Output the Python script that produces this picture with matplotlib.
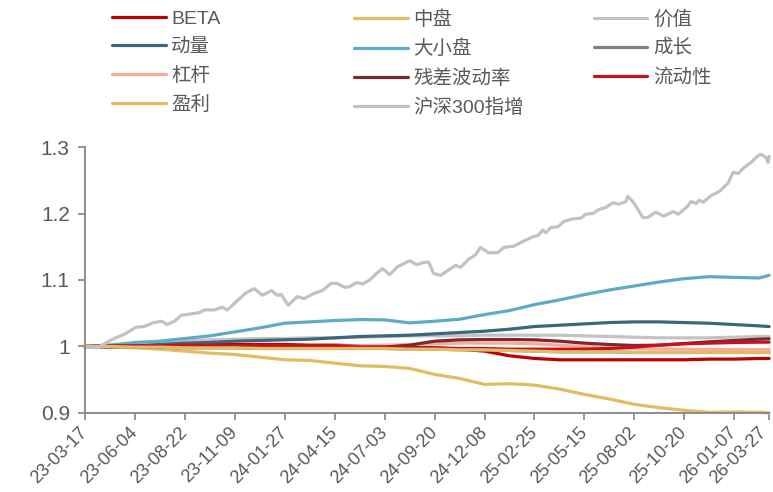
import matplotlib.pyplot as plt
import matplotlib.transforms as mtransforms

plt.rcParams['font.family'] = ['Liberation Sans', 'Noto Sans CJK SC', 'DejaVu Sans']

# tick labels (category axis, one tick every 10 observations, last tick at the end)
tick_pos = [0, 10, 20, 30, 40, 50, 60, 70, 80, 90, 100, 110, 120, 130, 137]
tick_labels = ["23-03-17", "23-06-04", "23-08-22", "23-11-09", "24-01-27", "24-04-15",
               "24-07-03", "24-09-20", "24-12-08", "25-02-25", "25-05-15", "25-08-02",
               "25-10-20", "26-01-07", "26-03-27"]

# common grid for the smooth factor curves
t = [0, 5, 10, 15, 20, 25, 30, 35, 40, 45, 50, 55, 60, 65, 70, 75, 80, 85, 90, 95,
     100, 105, 110, 115, 120, 125, 130, 135, 137]

beta = [1.0, 1.001, 1.002, 1.002, 1.003, 1.003, 1.003, 1.003, 1.003, 1.002, 1.002, 1.001,
        1.0, 0.999, 0.998, 0.996, 0.993, 0.986, 0.982, 0.980, 0.980, 0.980, 0.980, 0.980,
        0.980, 0.981, 0.981, 0.982, 0.982]
zhongpan = [1.0, 0.999, 0.998, 0.996, 0.993, 0.990, 0.988, 0.984, 0.980, 0.979, 0.975, 0.971,
            0.970, 0.967, 0.958, 0.952, 0.943, 0.944, 0.942, 0.936, 0.928, 0.921, 0.913, 0.908,
            0.904, 0.901, 0.9015, 0.901, 0.900]
jiazhi = [1.0, 1.002, 1.004, 1.006, 1.008, 1.010, 1.011, 1.012, 1.012, 1.013, 1.013, 1.014,
          1.015, 1.016, 1.016, 1.016, 1.017, 1.017, 1.017, 1.017, 1.016, 1.015, 1.014, 1.013,
          1.013, 1.013, 1.014, 1.015, 1.015]
dongliang = [1.0, 0.999, 1.001, 1.003, 1.005, 1.006, 1.008, 1.009, 1.010, 1.011, 1.013, 1.015,
             1.016, 1.017, 1.019, 1.021, 1.023, 1.026, 1.030, 1.032, 1.034, 1.036, 1.037, 1.037,
             1.036, 1.035, 1.033, 1.031, 1.030]
daxiaopan = [1.0, 1.002, 1.006, 1.008, 1.012, 1.016, 1.022, 1.028, 1.035, 1.037, 1.039, 1.0405,
             1.040, 1.0355, 1.038, 1.041, 1.048, 1.054, 1.063, 1.070, 1.078, 1.085, 1.091, 1.097,
             1.102, 1.105, 1.104, 1.103, 1.107]
chengzhang = [1.0, 1.0, 0.999, 0.999, 0.998, 0.998, 0.998, 0.997, 0.997, 0.997, 0.997, 0.997,
              0.997, 0.996, 0.996, 0.995, 0.995, 0.994, 0.993, 0.992, 0.992, 0.992, 0.991, 0.991,
              0.991, 0.991, 0.991, 0.991, 0.991]
ganggan = [1.0, 1.0, 1.0, 1.0, 1.0, 1.0, 1.0, 1.0, 1.0, 1.0, 1.0, 1.001,
           1.002, 1.003, 1.004, 1.005, 1.005, 1.005, 1.004, 1.002, 1.0, 0.998, 0.997, 0.996,
           0.996, 0.9955, 0.9955, 0.9955, 0.9955]
canchabodong = [1.0, 1.0, 1.0, 0.999, 0.999, 0.999, 0.999, 0.999, 0.999, 0.999, 0.999, 0.999,
                0.999, 1.002, 1.008, 1.010, 1.0105, 1.0105, 1.010, 1.008, 1.005, 1.003, 1.0015, 1.002,
                1.0045, 1.007, 1.009, 1.011, 1.0115]
liudongxing = [1.0, 1.001, 1.001, 1.001, 1.002, 1.002, 1.001, 1.001, 1.0, 1.0, 1.0, 0.999,
               0.999, 0.998, 0.998, 0.997, 0.997, 0.996, 0.996, 0.996, 0.996, 0.997, 0.999, 1.002,
               1.004, 1.005, 1.006, 1.0065, 1.0065]
yingli = [1.0, 1.0, 0.999, 0.999, 0.998, 0.998, 0.998, 0.997, 0.997, 0.997, 0.997, 0.997,
          0.997, 0.996, 0.996, 0.995, 0.995, 0.994, 0.993, 0.992, 0.992, 0.992, 0.991, 0.991,
          0.991, 0.991, 0.991, 0.991, 0.991]

# CSI 300 enhanced index: denser, jagged
t_hs = [0, 2.4, 5.8, 7.8, 10.2, 11.8, 13.8, 15.4, 16.4, 17.9, 19.3, 21.3, 22.9, 23.9, 25.9,
        27.5, 28.5, 30.5, 32.3, 33.9, 35.5, 37.3, 38.5, 39.3, 40.7, 42.5, 43.9, 45.9, 47.5,
        49.3, 50.4, 52.0, 53.0, 54.4, 55.6, 57.0, 58.4, 59.6, 61.0, 62.6, 65.0, 66.4, 67.6,
        68.8, 69.8, 71.2, 72.6, 74.2, 75.2, 76.8, 78.2, 79.2, 80.8, 82.6, 83.9, 85.9, 87.7,
        89.7, 90.7, 91.7, 92.3, 93.3, 94.7, 95.9, 97.7, 99.3, 100.3, 101.7, 102.9, 104.3,
        105.7, 106.9, 108.3, 108.7, 109.9, 111.7, 112.7, 114.3, 115.9, 117.8, 118.8, 120.4,
        121.4, 122.4, 123.0, 123.8, 125.4, 127.0, 128.8, 129.8, 130.8, 131.8, 133.4, 134.8,
        135.4, 136.4, 136.8, 137.0]
hs300 = [1.0, 0.998, 1.012, 1.018, 1.029, 1.030, 1.036, 1.038, 1.033, 1.038, 1.047, 1.049,
         1.051, 1.055, 1.055, 1.059, 1.055, 1.069, 1.081, 1.087, 1.077, 1.084, 1.077, 1.078,
         1.062, 1.075, 1.072, 1.080, 1.084, 1.095, 1.095, 1.089, 1.090, 1.096, 1.094, 1.100,
         1.110, 1.117, 1.108, 1.120, 1.129, 1.123, 1.126, 1.127, 1.110, 1.107, 1.114, 1.122,
         1.119, 1.131, 1.138, 1.149, 1.141, 1.141, 1.149, 1.151, 1.158, 1.165, 1.167, 1.175,
         1.171, 1.179, 1.180, 1.188, 1.192, 1.193, 1.199, 1.200, 1.206, 1.209, 1.216, 1.214,
         1.218, 1.226, 1.216, 1.194, 1.194, 1.202, 1.196, 1.203, 1.199, 1.209, 1.218, 1.215,
         1.220, 1.217, 1.227, 1.233, 1.246, 1.262, 1.260, 1.268, 1.277, 1.287, 1.289, 1.284,
         1.277, 1.286]

series = [
    ("BETA", t, beta, "#C00000"),
    ("中盘", t, zhongpan, "#E2BC62"),
    ("价值", t, jiazhi, "#C3C3C3"),
    ("动量", t, dongliang, "#3B6779"),
    ("大小盘", t, daxiaopan, "#5FAAC6"),
    ("成长", t, chengzhang, "#808080"),
    ("杠杆", t, ganggan, "#F8AB9B"),
    ("残差波动率", t, canchabodong, "#7A2A2C"),
    ("流动性", t, liudongxing, "#C8101E"),
    ("盈利", t, yingli, "#DFBC66"),
    ("沪深300指增", t_hs, hs300, "#C2C2C2"),
]

fig = plt.figure(figsize=(7.73, 4.92), dpi=100)
ax = fig.add_axes([0.110, 0.1606, 0.885, 0.5406])

handles = []
for name, x, y, c in series:
    h, = ax.plot(x, y, color=c, lw=2.3, label=name, clip_on=False, solid_capstyle='round')
    handles.append(h)

ax.set_xlim(0, 137)
ax.set_ylim(0.9, 1.3)
ax.set_yticks([0.9, 1.0, 1.1, 1.2, 1.3])
ax.set_yticklabels(["0.9", "1", "1.1", "1.2", "1.3"])
ax.set_xticks(tick_pos)
ax.set_xticklabels(tick_labels, rotation=45, ha='right', va='center', rotation_mode='anchor')

for s in ["top", "right"]:
    ax.spines[s].set_visible(False)
for s in ["left", "bottom"]:
    ax.spines[s].set_color("#8C8C8C")
    ax.spines[s].set_linewidth(1.4)
ax.tick_params(axis='y', colors="#8C8C8C", labelcolor="#595959", labelsize=15,
               length=5, width=1.3, pad=6)
ax.tick_params(axis='x', colors="#8C8C8C", labelcolor="#595959", labelsize=13,
               length=5, width=1.3, pad=7)

# nudge the last date label so it stays inside the canvas
last = ax.get_xticklabels()[-1]
last.set_transform(last.get_transform() +
                   mtransforms.ScaledTranslation(-5 / 100, 0, fig.dpi_scale_trans))

# legend: three columns placed by hand, filled row by row
col_x = [0.145, 0.458, 0.768]
for i in range(3):
    hs = handles[i::3]
    fig.legend(hs, [h.get_label() for h in hs], loc='upper left',
               bbox_to_anchor=(col_x[i], 0.979), frameon=False, ncol=1,
               fontsize=14, labelcolor="#595959", handlelength=2.75,
               handletextpad=0.3, labelspacing=0.55, borderpad=0, borderaxespad=0)

fig.savefig("out.png", dpi=100)
